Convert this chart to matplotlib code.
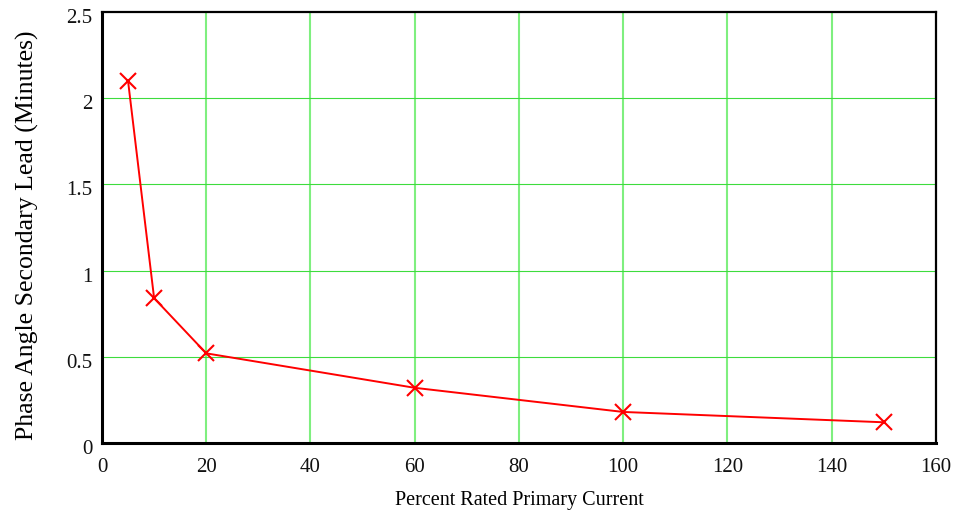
import matplotlib
matplotlib.use("Agg")
import matplotlib.pyplot as plt
import matplotlib.transforms as mtransforms

current_pct = [5, 10, 20, 60, 100, 150]
phase_lead = [2.1, 0.84, 0.52, 0.32, 0.18, 0.12]
x_ticks = [0, 20, 40, 60, 80, 100, 120, 140, 160]
y_ticks = [0, 0.5, 1, 1.5, 2, 2.5]
y_tick_labels = ["0", "0.5", "1", "1.5", "2", "2.5"]

plt.rcParams['font.family'] = ['Liberation Serif', 'DejaVu Serif']

fig = plt.figure(figsize=(9.63, 5.12), dpi=100)
ax = fig.add_axes([0.1059, 0.1348, 0.866, 0.8418])

for xv in x_ticks[1:-1]:
    ax.axvline(xv, color='#7fef7f', lw=1.5, zorder=1)
for yv in y_ticks[1:-1]:
    ax.axhline(yv, color='#3ddc3d', lw=0.8, zorder=1)

ax.plot(current_pct, phase_lead, color='#ff0000', lw=1.4, marker='x',
        markersize=12, markeredgewidth=1.5, zorder=3, clip_on=False)

ax.set_xlim(0, 160)
ax.set_ylim(0, 2.5)
ax.set_xticks(x_ticks)
ax.set_xticklabels([str(v) for v in x_ticks])
ax.set_yticks(y_ticks)
ax.set_yticklabels(y_tick_labels)
ax.tick_params(length=0, labelsize=15, colors='#111111')
ax.tick_params(axis='x', pad=11)
ax.tick_params(axis='y', pad=7)

offset = mtransforms.ScaledTranslation(0, -4 / 100, fig.dpi_scale_trans)
for lbl in ax.get_yticklabels():
    lbl.set_transform(lbl.get_transform() + offset)

for side in ['left', 'bottom']:
    ax.spines[side].set_linewidth(2.2)
for side in ['top', 'right']:
    ax.spines[side].set_linewidth(1.6)

ax.set_xlabel('Percent Rated Primary Current', fontsize=14.5, labelpad=10)
ax.set_ylabel('Phase Angle Secondary Lead (Minutes)', fontsize=18.5)
ax.yaxis.set_label_coords(-0.076, 0.483)

fig.savefig('out.png', dpi=100)
